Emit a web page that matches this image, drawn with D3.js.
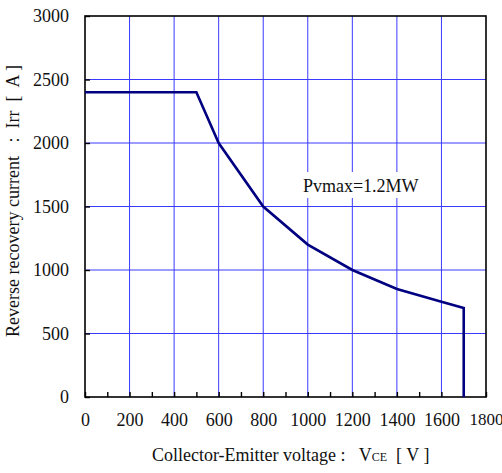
<!DOCTYPE html>
<html lang="en">
  <head>
    <meta charset="UTF-8" />
    <title>Reverse recovery current</title>
    <style>
      body { margin: 0; background: #fff; }
      svg, svg text { font-family: 'Liberation Serif', 'DejaVu Serif', serif; fill: #111; }
    </style>
  </head>
  <body>
    <svg id="chart"></svg>
    <script src="https://d3js.org/d3.v7.min.js"></script>
    <script>
      // curve
      const vce = [0, 500, 600, 800, 1000, 1200, 1400, 1600, 1700, 1700];
      const irr = [2400, 2400, 2000, 1500, 1200, 1000, 850, 750, 700, 0];
      const xTicks = [0, 200, 400, 600, 800, 1000, 1200, 1400, 1600, 1800];
      const yTicks = [0, 500, 1000, 1500, 2000, 2500, 3000];
      const note = 'Pvmax=1.2MW';

      let width = 502;
      let height = 473;
      let margin = { top: 16, left: 85, right: 16, bottom: 76 };
      let bodyWidth = width - margin.left - margin.right;
      let bodyHeight = height - margin.top - margin.bottom;
      let serif = "'Liberation Serif', 'DejaVu Serif', serif";

      let svg = d3.select('#chart')
        .attr('width', width)
        .attr('height', height)
        .attr('font-family', serif);
      let body = svg.append('g').attr('transform', `translate(${margin.left},${margin.top})`);

      let xScale = d3.scaleLinear().domain([0, 1800]).range([0, bodyWidth]);
      let yScale = d3.scaleLinear().domain([0, 3000]).range([bodyHeight, 0]);

      // grid
      body.selectAll('.vgrid')
        .data(xTicks.slice(1, -1))
        .enter()
        .append('line')
        .attr('x1', (d) => xScale(d))
        .attr('x2', (d) => xScale(d))
        .attr('y1', 0)
        .attr('y2', bodyHeight)
        .attr('stroke', '#3a3aff')
        .attr('stroke-width', 1);
      body.selectAll('.hgrid')
        .data(yTicks.slice(1, -1))
        .enter()
        .append('line')
        .attr('x1', 0)
        .attr('x2', bodyWidth)
        .attr('y1', (d) => yScale(d))
        .attr('y2', (d) => yScale(d))
        .attr('stroke', '#3a3aff')
        .attr('stroke-width', 1);

      // note, with a white box behind it that cuts the grid
      let noteText = body.append('text')
        .attr('x', xScale(978))
        .attr('y', yScale(1614))
        .attr('font-family', serif)
        .attr('font-size', 18)
        .text(note);
      let bb = noteText.node().getBBox();
      body.insert('rect', 'text')
        .attr('x', bb.x - 3)
        .attr('y', bb.y - 4)
        .attr('width', bb.width + 6)
        .attr('height', bb.height + 6)
        .attr('fill', '#fff');

      // frame
      body.append('rect')
        .attr('width', bodyWidth)
        .attr('height', bodyHeight)
        .attr('fill', 'none')
        .attr('stroke', '#000')
        .attr('stroke-width', 1.6);

      // axes, ticks pointing inwards
      let axisX = d3.axisBottom(xScale)
        .tickValues(d3.range(0, 1801, 100))
        .tickSizeInner(-5)
        .tickSizeOuter(0)
        .tickPadding(16)
        .tickFormat((d) => (xTicks.includes(d) ? d : ''));
      let gx = body.append('g').attr('transform', `translate(0,${bodyHeight})`).call(axisX);

      let axisY = d3.axisLeft(yScale)
        .tickValues(yTicks)
        .tickSizeInner(-5)
        .tickSizeOuter(0)
        .tickPadding(16)
        .tickFormat(d3.format('d'));
      let gy = body.append('g').call(axisY);

      [gx, gy].forEach((g) => {
        g.attr('font-family', serif).attr('font-size', 18);
        g.select('.domain').remove();
        g.selectAll('line').attr('stroke', '#000').attr('stroke-width', 1.4);
        g.selectAll('text')
          .attr('font-family', serif)
          .attr('fill', '#111');
      });
      // the last label sits right at the window edge
      gx.selectAll('text').filter((d) => d === 1800).attr('font-size', 17);

      // curve
      let line = d3.line()
        .x((d) => xScale(d[0]))
        .y((d) => yScale(d[1]));
      body.append('path')
        .datum(vce.map((v, i) => [v, irr[i]]))
        .attr('d', line)
        .attr('fill', 'none')
        .attr('stroke', '#000080')
        .attr('stroke-width', 2.6)
        .attr('stroke-linejoin', 'miter');

      // axis titles
      let xLabel = svg.append('text')
        .attr('x', 152)
        .attr('y', 461)
        .attr('font-size', 18)
        .attr('xml:space', 'preserve');
      xLabel.append('tspan').text('Collector-Emitter voltage :   V');
      xLabel.append('tspan').attr('font-size', 12).text('CE');
      xLabel.append('tspan').text('  [ V ]');

      svg.append('text')
        .attr('transform', `translate(19,337) rotate(-90)`)
        .attr('font-size', 18)
        .attr('xml:space', 'preserve')
        .text('Reverse recovery current   :  Irr  [  A ]');
    </script>
  </body>
</html>
